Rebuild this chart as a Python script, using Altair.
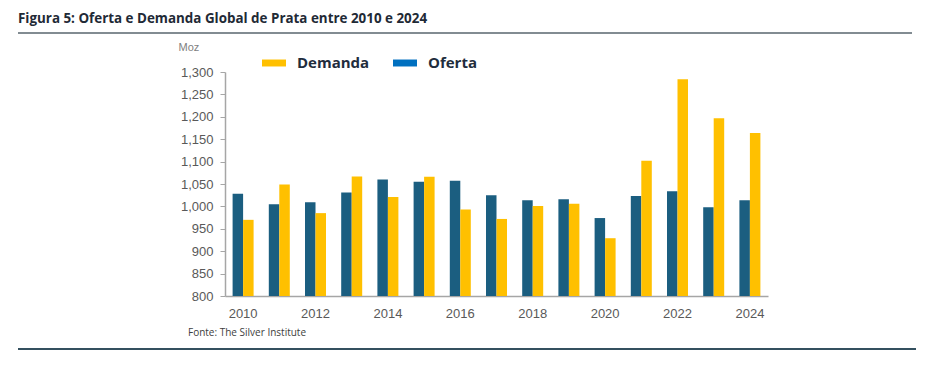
import altair as alt
import pandas as pd

years = list(range(2010, 2025))
oferta = [1028, 1005, 1009, 1031, 1060, 1055, 1057, 1025, 1014, 1016, 974, 1023, 1034, 998, 1014]
demanda = [970, 1049, 985, 1067, 1021, 1066, 993, 972, 1001, 1006, 929, 1102, 1284, 1197, 1164]
label_years = [2010, 2012, 2014, 2016, 2018, 2020, 2022, 2024]
y_ticks = list(range(800, 1301, 50))
y_base = 800

title_text = "Figura 5: Oferta e Demanda Global de Prata entre 2010 e 2024"
source_text = "Fonte: The Silver Institute"

rows = []
for yr, o, d in zip(years, oferta, demanda):
    rows.append({"ano": yr, "serie": "Oferta", "valor": o})
    rows.append({"ano": yr, "serie": "Demanda", "valor": d})
df = pd.DataFrame(rows)

BAR_COLORS = ["#1B5E80", "#FFC000"]
LEG_COLORS = ["#FFC000", "#0070C0"]
GRAY = "#595959"
AXIS = "#A6A6A6"

x_enc = alt.X(
    "ano:O",
    scale=alt.Scale(paddingInner=0.42, paddingOuter=0.21),
    axis=alt.Axis(
        values=label_years, title=None, labelAngle=0, ticks=False,
        domainColor=AXIS, domainWidth=1.5, labelColor=GRAY,
        labelFont="Liberation Sans", labelFontSize=13, labelPadding=11, grid=False,
    ),
)
y_enc = alt.Y(
    "valor:Q",
    scale=alt.Scale(domain=[800, 1300], nice=False, zero=False),
    axis=alt.Axis(
        values=y_ticks, format=",.0f", title="Moz", titleAngle=0, titleAlign="left",
        titleBaseline="middle", titleX=-47, titleY=-25, titleColor="#7F7F7F",
        titleFont="Liberation Sans", titleFontSize=11, titleFontWeight="normal",
        labelColor=GRAY, labelFont="Liberation Sans", labelFontSize=13,
        tickColor=AXIS, tickSize=5, labelPadding=7, domainColor=AXIS,
        domainWidth=1.5, grid=False,
    ),
)

bars = alt.Chart(df).mark_bar().encode(
    x=x_enc,
    y=y_enc,
    y2=alt.Y2(datum=y_base),
    xOffset=alt.XOffset("serie:N", sort=["Oferta", "Demanda"]),
    fill=alt.Fill("serie:N", scale=alt.Scale(domain=["Oferta", "Demanda"], range=BAR_COLORS), legend=None),
)

legend_layer = alt.Chart(df).mark_square(opacity=0, filled=True).encode(
    color=alt.Color(
        "serie:N",
        scale=alt.Scale(domain=["Demanda", "Oferta"], range=LEG_COLORS),
        legend=alt.Legend(
            title=None, orient="none", direction="horizontal", legendX=37, legendY=-21,
            symbolType="M-1,-0.29H1V0.29H-1Z", symbolSize=576, symbolOpacity=1,
            symbolStrokeWidth=0, labelFont="Open Sans", labelFontSize=15,
            labelFontWeight="bold", labelColor="#1F2D3D", labelOffset=11,
            columnPadding=23,
        ),
    ),
)

title = alt.Chart(pd.DataFrame({"t": [title_text]})).mark_text(
    align="left", baseline="alphabetic", font="Open Sans", fontSize=13.4,
    fontWeight="bold", color="#1F2A36",
).encode(x=alt.value(-207), y=alt.value(-49), text="t:N")

source = alt.Chart(pd.DataFrame({"t": [source_text]})).mark_text(
    align="left", baseline="middle", font="Open Sans", fontSize=10, color="#404040",
).encode(x=alt.value(-37), y=alt.value(261), text="t:N")

top_rule = alt.Chart(pd.DataFrame({"a": [0]})).mark_rule(color="#828C92", strokeWidth=2).encode(
    x=alt.value(-207), x2=alt.value(687), y=alt.value(-39)
)
bottom_rule = alt.Chart(pd.DataFrame({"a": [0]})).mark_rule(color="#34505F", strokeWidth=2).encode(
    x=alt.value(-207), x2=alt.value(691), y=alt.value(277)
)

chart = alt.layer(bars, legend_layer, title, source, top_rule, bottom_rule).properties(
    width=543, height=224,
    autosize=alt.AutoSizeParams(type="none"),
    padding={"left": 217, "top": 64, "right": 159, "bottom": 62},
).resolve_scale(color="independent").configure_view(stroke=None)

chart.save("out.html", embed_options={"renderer": "svg", "actions": False})
